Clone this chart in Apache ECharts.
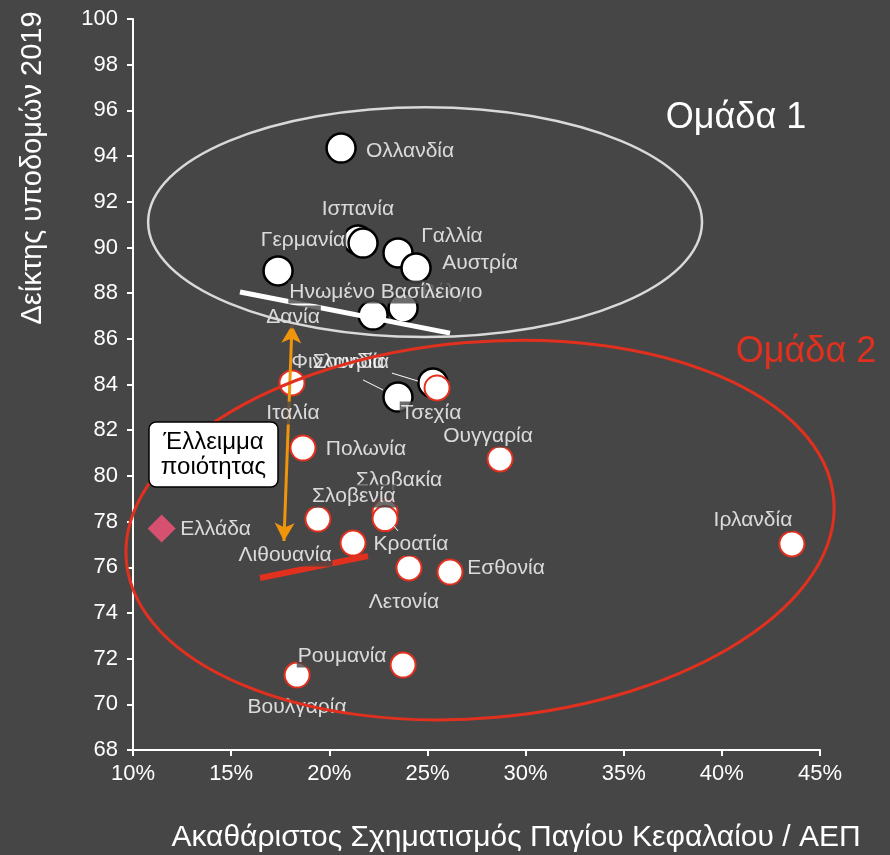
<!DOCTYPE html>
<html><head><meta charset="utf-8">
<script src="https://cdn.jsdelivr.net/npm/echarts@6/dist/echarts.min.js"></script>
<style>html,body{margin:0;padding:0;background:#464646}#c{width:890px;height:855px}</style>
</head><body><div id="c"></div>
<script>
// ---- data ----
const xTickValues = [10, 15, 20, 25, 30, 35, 40, 45];
const yTickValues = [68, 70, 72, 74, 76, 78, 80, 82, 84, 86, 88, 90, 92, 94, 96, 98, 100];

const group1Names = ['Ολλανδία','Ισπανία','Ηνωμένο Βασίλειο','Γαλλία','Αυστρία','Γερμανία','Δανία','Βέλγιο','Σουηδία','Φινλανδία'];
const group1X = [20.60, 21.46, 21.72, 23.50, 24.42, 17.39, 22.23, 23.76, 25.28, 23.50];
const group1Y = [94.35, 90.33, 90.19, 89.76, 89.10, 88.97, 87.04, 87.35, 84.07, 83.45];

const group2Names = ['Ιταλία','Τσεχία','Πολωνία','Ουγγαρία','Σλοβακία','Σλοβενία','Κροατία','Λιθουανία','Λετονία','Εσθονία','Ρουμανία','Βουλγαρία','Ιρλανδία'];
const group2X = [18.10, 25.49, 18.66, 28.70, 22.84, 19.42, 22.84, 21.21, 24.06, 26.15, 23.76, 18.36, 43.57];
const group2Y = [84.07, 83.85, 81.22, 80.74, 78.44, 78.11, 78.13, 77.06, 75.97, 75.79, 71.72, 71.28, 77.02];

const greeceName = ['Ελλάδα'];
const greeceX = [11.46];
const greeceY = [77.70];

// annotation lines (value coordinates)
const trendGroup1 = [[15.45, 88.05], [26.15, 86.25]];
const trendGroup2 = [[16.47, 75.53], [21.97, 76.49]];
const gapArrow = [[18.10, 86.60], [17.69, 77.15]];
const leaderLines = [
  [[21.72, 84.20], [22.74, 83.76]],
  [[23.19, 84.50], [24.52, 84.15]],
  [[23.25, 77.85], [23.50, 77.59]]
];
// group ellipses: centre, semi-axes in axis units, rotation in degrees
const ellipseCentres = [[24.88, 91.11], [27.68, 77.63]];
const ellipseSemiAxes = [[14.11, 5.03], [18.09, 8.23]];
const ellipseRotation = [0, 5];

// ---- layout / style (not data) ----
const FONT = '"Liberation Sans", Arial, sans-serif';
const BG = '#464646';
const RED = '#e2301f';
const labelOffsets = {
  'Ολλανδία':[69,3], 'Ισπανία':[0,-31], 'Ηνωμένο Βασίλειο':[12,49], 'Γαλλία':[54,-17],
  'Αυστρία':[64,-5], 'Γερμανία':[25,-31], 'Δανία':[-80,2], 'Βέλγιο':[49,-16],
  'Σουηδία':[-82,-21], 'Φινλανδία':[-60,-35],
  'Ιταλία':[1,30], 'Τσεχία':[-6,25], 'Πολωνία':[63,1], 'Ουγγαρία':[-12,-23],
  'Σλοβακία':[14,-31], 'Σλοβενία':[36,-23], 'Κροατία':[26,26], 'Λιθουανία':[-68,12],
  'Λετονία':[-5,34], 'Εσθονία':[56,-4], 'Ρουμανία':[-61,-9], 'Βουλγαρία':[0,32],
  'Ιρλανδία':[-39,-24], 'Ελλάδα':[54,1]
};
const noBgLabels = ['Σουηδία','Φινλανδία'];
const labelOrder = ['Ολλανδία','Ισπανία','Γαλλία','Αυστρία','Γερμανία','Δανία','Βέλγιο','Ηνωμένο Βασίλειο',
  'Φινλανδία','Σουηδία','Ιταλία','Τσεχία','Πολωνία','Ουγγαρία','Σλοβακία','Σλοβενία','Κροατία',
  'Λιθουανία','Λετονία','Εσθονία','Ρουμανία','Βουλγαρία','Ιρλανδία','Ελλάδα'];

const allNames = group1Names.concat(group2Names, greeceName);
const allX = group1X.concat(group2X, greeceX);
const allY = group1Y.concat(group2Y, greeceY);

const labelData = labelOrder.map(n => {
  const i = allNames.indexOf(n);
  const o = labelOffsets[n];
  return {
    name: n, value: [allX[i], allY[i]],
    label: {
      show: true, position: 'inside', offset: o, formatter: n,
      color: '#ffffff', fontSize: 21, fontFamily: FONT,
      backgroundColor: noBgLabels.includes(n) ? 'transparent' : BG,
      padding: [1, 1]
    }
  };
});

const chart = echarts.init(document.getElementById('c'), null, {renderer: 'canvas'});
const option = {
  backgroundColor: BG,
  animation: false,
  grid: {left: 133, right: 70, top: 19, bottom: 105, containLabel: false},
  xAxis: {
    type: 'value', min: xTickValues[0], max: xTickValues[xTickValues.length - 1], interval: 5,
    axisLine: {show: true, onZero: false, lineStyle: {color: '#ffffff', width: 2}},
    axisTick: {show: true, length: 6, lineStyle: {color: '#ffffff', width: 2}},
    axisLabel: {color: '#ffffff', fontSize: 22, fontFamily: FONT, margin: 13, formatter: '{value}%'},
    splitLine: {show: false}
  },
  yAxis: {
    type: 'value', min: yTickValues[0], max: yTickValues[yTickValues.length - 1], interval: 2,
    axisLine: {show: true, onZero: false, lineStyle: {color: '#ffffff', width: 2}},
    axisTick: {show: true, length: 6, lineStyle: {color: '#ffffff', width: 2}},
    axisLabel: {color: '#ffffff', fontSize: 22, fontFamily: FONT, margin: 15},
    splitLine: {show: false}
  },
  series: [
    {
      name: 'trend1', type: 'line', z: 3, silent: true, symbol: 'none',
      data: trendGroup1, lineStyle: {color: '#ffffff', width: 5},
      markLine: {
        silent: true, symbol: ['none', 'none'], label: {show: false},
        lineStyle: {color: '#ffffff', width: 1, type: 'solid'},
        data: leaderLines.map(s => [{coord: s[0]}, {coord: s[1]}])
      }
    },
    {
      name: 'trend2', type: 'line', z: 3, silent: true, symbol: 'none',
      data: trendGroup2, lineStyle: {color: RED, width: 6}
    },
    {
      name: 'Ομάδα 1', type: 'scatter', z: 2, silent: true,
      symbol: 'circle', symbolSize: 29,
      itemStyle: {color: '#ffffff', borderColor: '#000000', borderWidth: 2.5, opacity: 1},
      data: group1Names.map((n, i) => ({name: n, value: [group1X[i], group1Y[i]]}))
    },
    {
      name: 'Ομάδα 2', type: 'scatter', z: 2, silent: true,
      symbol: 'circle', symbolSize: 25,
      itemStyle: {color: '#ffffff', borderColor: RED, borderWidth: 2, opacity: 1},
      data: group2Names.map((n, i) => ({name: n, value: [group2X[i], group2Y[i]]}))
    },
    {
      name: 'Ελλάδα', type: 'scatter', z: 2, silent: true,
      symbol: 'diamond', symbolSize: 28,
      itemStyle: {color: '#d6506f', opacity: 1},
      data: greeceName.map((n, i) => ({name: n, value: [greeceX[i], greeceY[i]]}))
    },
    {
      name: 'labels', type: 'scatter', z: 5, silent: true,
      symbol: 'circle', symbolSize: 1, itemStyle: {color: 'rgba(0,0,0,0)', borderWidth: 0},
      data: labelData
    },
    {
      name: 'ellipses', type: 'custom', z: 6, silent: true,
      data: ellipseCentres,
      renderItem: function (params, api) {
        const i = params.dataIndex;
        const c = api.coord(ellipseCentres[i]);
        const rx = api.size([ellipseSemiAxes[i][0], 0])[0];
        const ry = api.size([0, ellipseSemiAxes[i][1]])[1];
        return {
          type: 'ellipse', x: c[0], y: c[1], rotation: ellipseRotation[i] * Math.PI / 180,
          shape: {cx: 0, cy: 0, rx: rx, ry: ry},
          style: {fill: 'none', stroke: i === 0 ? '#d9d9d9' : RED, lineWidth: i === 0 ? 2.5 : 3}
        };
      }
    },
    {
      name: 'arrow', type: 'line', z: 8, silent: true, symbol: 'none',
      data: gapArrow, lineStyle: {opacity: 0},
      markLine: {
        silent: true, symbol: ['arrow', 'arrow'], symbolSize: [15, 18], label: {show: false},
        lineStyle: {color: '#f0940c', width: 3, type: 'solid'},
        data: [[{coord: gapArrow[0]}, {coord: gapArrow[1]}]]
      }
    }
  ],
  graphic: [
    {type: 'text', x: 33, y: 168, rotation: Math.PI / 2, z: 100,
      style: {text: 'Δείκτης υποδομών 2019', fill: '#ffffff', font: '29px ' + FONT, align: 'center', verticalAlign: 'middle'}},
    {type: 'text', x: 516, y: 838, z: 100,
      style: {text: 'Ακαθάριστος Σχηματισμός Παγίου Κεφαλαίου / ΑΕΠ', fill: '#ffffff', font: '30px ' + FONT, align: 'center', verticalAlign: 'middle'}},
    {type: 'text', x: 736, y: 118, z: 100,
      style: {text: 'Ομάδα 1', fill: '#ffffff', font: '36px ' + FONT, align: 'center', verticalAlign: 'middle'}},
    {type: 'text', x: 806, y: 352, z: 100,
      style: {text: 'Ομάδα 2', fill: RED, font: '36px ' + FONT, align: 'center', verticalAlign: 'middle'}},
    {type: 'rect', x: 149, y: 422, z: 100, shape: {width: 129, height: 65, r: 7},
      style: {fill: '#ffffff', stroke: '#000000', lineWidth: 1.5}},
    {type: 'text', x: 213.5, y: 454.5, z: 101,
      style: {text: 'Έλλειμμα\nποιότητας', fill: '#000000', font: '24px ' + FONT, lineHeight: 25, align: 'center', verticalAlign: 'middle'}}
  ]
};
chart.setOption(option);
</script>
</body></html>
